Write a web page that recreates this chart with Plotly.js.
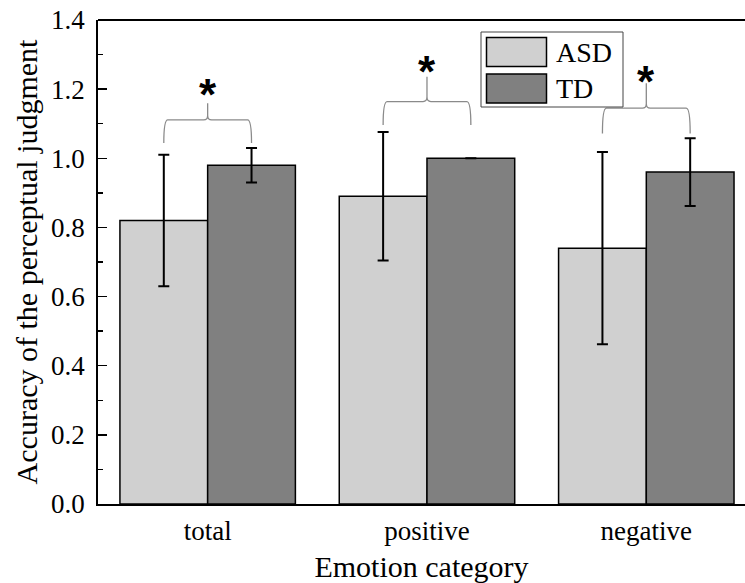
<!DOCTYPE html>
<html>
<head>
<meta charset="utf-8">
<script src="https://cdn.plot.ly/plotly-3.0.1.min.js"></script>
<style>html,body{margin:0;padding:0;background:#fff;overflow:hidden}</style>
</head>
<body>
<div id="chart" style="width:745px;height:583px"></div>
<script>
// ---- data ----
const categories = ['total', 'positive', 'negative'];
const seriesNames = ['ASD', 'TD'];
const asdMean = [0.82, 0.89, 0.74];
const asdErr = [0.19, 0.186, 0.278];
const tdMean = [0.98, 1.00, 0.96];
const tdErr = [0.05, null, 0.098];
const sigMarks = ['*', '*', '*'];

// ---- layout constants ----
const W = 745, H = 583;
const M = {l: 98, r: 0, t: 20, b: 79};
const plotW = W - M.l - M.r, plotH = H - M.t - M.b;
const px = x => (x - M.l) / plotW;
const py = y => (M.t + plotH - y) / plotH;
const serif = 'Liberation Serif, Times New Roman, serif';
const colors = ['#d0d0d0', '#808080'];

// brace geometry (data y units)
const braceBottom = [1.044, 1.096, 1.072];
const braceMid = [1.111, 1.164, 1.145];
const bracePeak = [1.159, 1.236, 1.217];
const starY = [1.212, 1.279, 1.251];
const half = 0.2, dx = 0.018, dy = 0.013;

const xs = categories.map((c, i) => i);

const traces = [
  {type: 'bar', name: seriesNames[0], x: xs, y: asdMean,
   marker: {color: colors[0], line: {color: '#000', width: 1.5}},
   error_y: {type: 'data', array: asdErr, visible: true, color: '#000', thickness: 2, width: 5.5}},
  {type: 'bar', name: seriesNames[1], x: xs, y: tdMean,
   marker: {color: colors[1], line: {color: '#000', width: 1.5}},
   error_y: {type: 'data', array: tdErr, visible: true, color: '#000', thickness: 2, width: 5.5}}
];

const shapes = [];
const annotations = [];
xs.forEach((i, k) => {
  const x0 = i - half, x1 = i + half, xm = i;
  const yb = braceBottom[k], yh = braceMid[k], yp = bracePeak[k];
  const p = `M ${x0},${yb} Q ${x0},${yh} ${x0 + dx},${yh} L ${xm - dx},${yh} Q ${xm},${yh} ${xm},${yh + dy} L ${xm},${yp} ` +
            `M ${xm},${yh + dy} Q ${xm},${yh} ${xm + dx},${yh} L ${x1 - dx},${yh} Q ${x1},${yh} ${x1},${yb}`;
  shapes.push({type: 'path', xref: 'x', yref: 'y', path: p, line: {color: '#8a8a8a', width: 1.3}});
  annotations.push({xref: 'x', yref: 'y', x: xm, y: starY[k], text: '<b>' + sigMarks[k] + '</b>',
    showarrow: false, yanchor: 'middle', yshift: -10,
    font: {family: 'Liberation Sans, Arial, sans-serif', size: 44, color: '#000'}});
});

// top frame line
shapes.push({type: 'line', xref: 'paper', yref: 'paper', x0: 0, x1: 1, y0: 1, y1: 1, line: {color: '#000', width: 1.8}});

// custom legend
shapes.push({type: 'rect', xref: 'paper', yref: 'paper', x0: px(481), x1: px(623), y0: py(107), y1: py(32),
  line: {color: '#444', width: 1}, fillcolor: 'rgba(0,0,0,0)'});
const swY = [[37.5, 66.5], [74, 103]];
seriesNames.forEach((n, k) => {
  shapes.push({type: 'rect', xref: 'paper', yref: 'paper', x0: px(486.5), x1: px(546.5), y0: py(swY[k][1]), y1: py(swY[k][0]),
    line: {color: '#000', width: 1.5}, fillcolor: colors[k]});
  annotations.push({xref: 'paper', yref: 'paper', x: px(554), y: py((swY[k][0] + swY[k][1]) / 2), text: n,
    showarrow: false, xanchor: 'left', yanchor: 'middle', font: {family: serif, size: 28, color: '#000'}});
});

const layout = {
  width: W, height: H, margin: M,
  paper_bgcolor: '#fff', plot_bgcolor: '#fff',
  showlegend: false,
  barmode: 'group', bargap: 0.2, bargroupgap: 0,
  font: {family: serif, color: '#000'},
  xaxis: {range: [-0.5, 2.45], tickvals: xs, ticktext: categories, ticks: '',
    showline: true, linecolor: '#000', linewidth: 1.8, showgrid: false, zeroline: false,
    tickfont: {family: serif, size: 27}, ticklabelstandoff: 2,
    title: {text: 'Emotion category', font: {family: serif, size: 30}, standoff: 12}},
  yaxis: {range: [0, 1.4], dtick: 0.2, tick0: 0, tickformat: '.1f', ticks: 'inside', ticklen: 9, tickwidth: 1.5,
    tickcolor: '#000', minor: {dtick: 0.1, ticks: 'inside', ticklen: 5, tickwidth: 1.5, tickcolor: '#000'},
    showline: true, linecolor: '#000', linewidth: 1.8, showgrid: false, zeroline: false,
    tickfont: {family: serif, size: 27}, ticklabelstandoff: 6,
    title: {text: 'Accuracy of the perceptual judgment', font: {family: serif, size: 30}, standoff: 4}},
  shapes: shapes,
  annotations: annotations
};

Plotly.newPlot('chart', traces, layout, {displayModeBar: false, staticPlot: true});
</script>
</body>
</html>
